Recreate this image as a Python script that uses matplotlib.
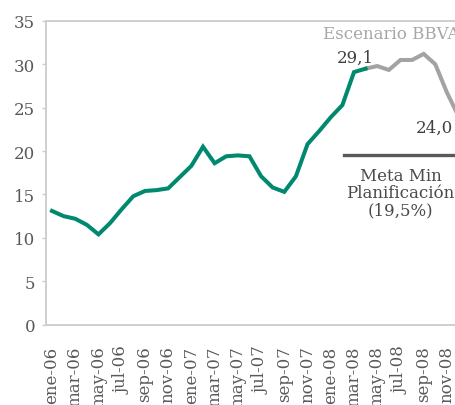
import numpy as np
import matplotlib
matplotlib.use("Agg")
import matplotlib.pyplot as plt

# --- Data (monthly, ene-06 .. dic-08) ---
real_values = [13.1, 12.5, 12.2, 11.5, 10.4, 11.7, 13.3, 14.8, 15.4, 15.5,
               15.7, 17.0, 18.3, 20.5, 18.6, 19.4, 19.5, 19.4, 17.1, 15.8,
               15.3, 17.1, 20.8, 22.3, 23.9, 25.3, 29.1, 29.5]
scenario_values = [29.5, 29.8, 29.35, 30.5, 30.5, 31.2, 30.0, 26.75, 24.0]
tick_labels = ["ene-06", "mar-06", "may-06", "jul-06", "sep-06", "nov-06",
               "ene-07", "mar-07", "may-07", "jul-07", "sep-07", "nov-07",
               "ene-08", "mar-08", "may-08", "jul-08", "sep-08", "nov-08"]
meta_min = 19.5

plt.rcParams['font.family'] = ['DejaVu Serif']
plt.rcParams['font.size'] = 12

green = '#00896f'
grey_line = '#a3a3a3'
axis_grey = '#cccccc'
text_grey = '#595959'

fig = plt.figure(figsize=(4.56, 4.06), dpi=100)
ax = fig.add_axes([0.1013, 0.198, 0.917, 0.748])

x_real = np.arange(len(real_values))
x_scen = np.arange(len(real_values) - 1, len(real_values) - 1 + len(scenario_values))

ax.plot(x_real, real_values, color=green, lw=2.9, solid_joinstyle='miter', zorder=3)
ax.plot(x_scen, scenario_values, color=grey_line, lw=2.9, solid_joinstyle='miter', zorder=2)

# meta line
ax.plot([25.1, 35.5], [meta_min, meta_min], color='#595959', lw=2.4, zorder=2)
ax.text(30.0, 15.2, "Meta Min\nPlanificación\n(19,5%)", ha='center', va='center',
        color='#4a4a4a', fontsize=12, linespacing=1.05)

ax.text(23.34, 33.6, "Escenario BBVA", ha='left', va='center', color='#a6a6a6', fontsize=12)
ax.text(26.1, 30.8, "29,1", ha='center', va='center', color='#404040', fontsize=12)
ax.text(32.96, 22.7, "24,0", ha='center', va='center', color='#404040', fontsize=12)

ax.set_xlim(-0.5, 35.5)
ax.set_ylim(0, 35)
ax.set_yticks(np.arange(0, 36, 5))
ax.set_xticks(np.arange(0, 36, 2))
ax.set_xticklabels(tick_labels, rotation=90, va='top', ha='center')

for side in ['left', 'bottom', 'top']:
    ax.spines[side].set_color(axis_grey)
    ax.spines[side].set_linewidth(1.3)
ax.spines['right'].set_visible(False)

ax.tick_params(axis='y', length=3, width=1, color=axis_grey, labelcolor=text_grey, pad=5)
ax.tick_params(axis='x', length=0, labelcolor=text_grey, pad=15)

fig.savefig("out.png", dpi=100)
